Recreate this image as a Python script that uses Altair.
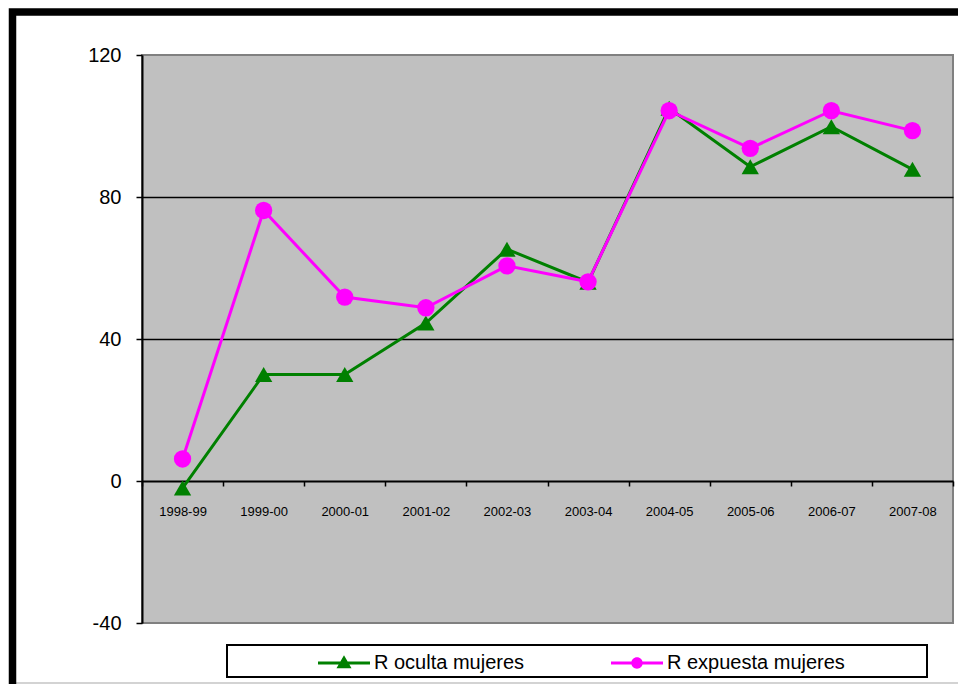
import altair as alt
import pandas as pd

seasons = ["1998-99", "1999-00", "2000-01", "2001-02", "2002-03",
           "2003-04", "2004-05", "2005-06", "2006-07", "2007-08"]
r_oculta = [-2, 30, 30, 44.5, 65.3, 56, 105, 88.5, 99.8, 87.8]
r_expuesta = [6.2, 76.2, 51.8, 48.8, 60.6, 56.1, 104.3, 93.7, 104.3, 98.7]
series_names = ["R oculta mujeres", "R expuesta mujeres"]
series_colors = ["#008000", "#FF00FF"]
marker_shapes = ["triangle-up", "circle"]
y_ticks = [-40, 0, 40, 80, 120]

rows = []
for name, vals in zip(series_names, [r_oculta, r_expuesta]):
    for s, v in zip(seasons, vals):
        rows.append({"temporada": s, "valor": v, "serie": name})
df = pd.DataFrame(rows)

FONT = "Liberation Sans"

x_enc = alt.X(
    "temporada:N", sort=seasons,
    scale=alt.Scale(type="band", paddingInner=0, paddingOuter=0),
    axis=alt.Axis(title=None, orient="bottom", offset=-142, labelAngle=0,
                  labelFont=FONT, labelFontSize=13, labelColor="black",
                  labelPadding=19, tickSize=5, tickColor="black", tickWidth=1.5,
                  domainColor="black", domainWidth=2, tickBand="extent",
                  grid=False),
)
y_enc = alt.Y(
    "valor:Q",
    scale=alt.Scale(domain=[-40, 120], nice=False, zero=False),
    axis=alt.Axis(title=None, values=y_ticks, labelExpr="'' + datum.value",
                  labelFont=FONT, labelFontSize=20,
                  labelColor="black", labelPadding=15, tickSize=6,
                  tickWidth=1.5, tickColor="black", domainColor="black",
                  domainWidth=2, grid=True, gridColor="black", gridWidth=1.5,
                  gridOpacity={"condition": {"test": "datum.value == 40 || datum.value == 80", "value": 1}, "value": 0}),
)

color_scale = alt.Scale(domain=series_names, range=series_colors)
shape_scale = alt.Scale(domain=series_names, range=marker_shapes)

# frame and decorations
blank = alt.Data(values=[{}])
outer_frame = alt.Chart(blank).mark_rect(filled=False, stroke="black", strokeWidth=7.5).encode(
    x=alt.value(-129.5), x2=alt.value(900), y=alt.value(-43), y2=alt.value(720))
bottom_line = alt.Chart(blank).mark_rule(color="#C4C4C4", strokeWidth=1.5).encode(
    x=alt.value(-126), x2=alt.value(816), y=alt.value(628))
legend_box = alt.Chart(blank).mark_rect(fill="white", stroke="black", strokeWidth=2).encode(
    x=alt.value(85), x2=alt.value(785), y=alt.value(590), y2=alt.value(622))

layers = [bottom_line, outer_frame, legend_box]
for name in series_names:
    base = alt.Chart(df).transform_filter(alt.datum.serie == name)
    layers.append(base.mark_line(strokeWidth=3).encode(
        x=x_enc, y=y_enc,
        color=alt.Color("serie:N", scale=color_scale, legend=None)))
    layers.append(base.mark_point(filled=True, opacity=1, size=300).encode(
        x=x_enc, y=y_enc,
        color=alt.Color("serie:N", scale=color_scale, legend=None),
        shape=alt.Shape("serie:N", scale=shape_scale, legend=None)))

line_bar = "M-1,-0.06L1,-0.06L1,0.06L-1,0.06Z"
legend_paths = [
    line_bar + " M-0.29,0.2L0,-0.3L0.29,0.2Z",
    line_bar + " M-0.22,0A0.22,0.22 0 1,1 0.22,0A0.22,0.22 0 1,1 -0.22,0Z",
]
leg = alt.Legend(title=None, orient="none", legendX=176, legendY=582,
                 direction="horizontal", columns=2, symbolSize=2704,
                 symbolStrokeWidth=0, labelFont=FONT, labelFontSize=20,
                 labelColor="black", labelOffset=4, columnPadding=86,
                 padding=0, symbolOpacity=1, labelLimit=400)
legend_layer = alt.Chart(df).transform_calculate(leyenda="datum.serie").mark_point(
    filled=True, opacity=0).encode(
    x=x_enc, y=y_enc,
    color=alt.Color("leyenda:N", scale=alt.Scale(domain=series_names, range=series_colors), legend=leg),
    shape=alt.Shape("leyenda:N", scale=alt.Scale(domain=series_names, range=legend_paths), legend=leg),
)
layers.append(legend_layer)

chart = alt.layer(*layers).resolve_scale(
    color="independent", shape="independent"
).properties(
    width=811, height=568,
    autosize=alt.AutoSizeParams(type="none"),
    padding={"left": 142, "top": 55, "right": 5, "bottom": 61},
    background="white",
).configure(
    font=FONT
).configure_view(
    fill="#C0C0C0", stroke="#808080", strokeWidth=2
)

chart.save("out.html", embed_options={"renderer": "svg", "actions": False})
